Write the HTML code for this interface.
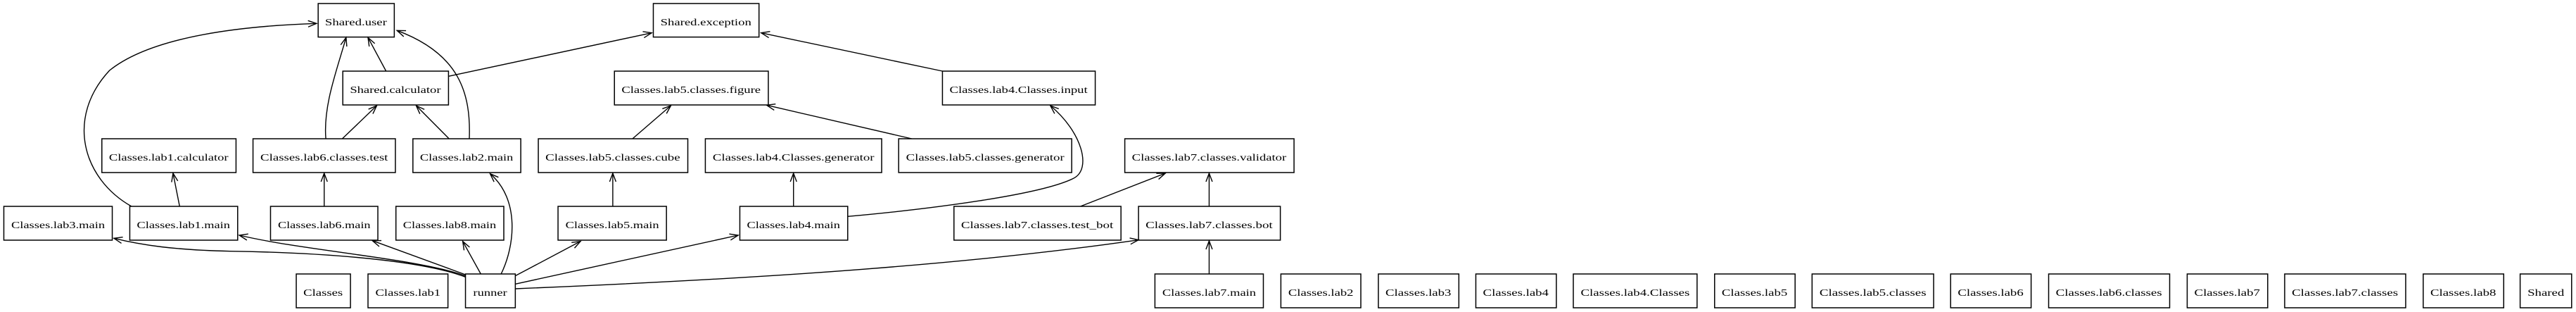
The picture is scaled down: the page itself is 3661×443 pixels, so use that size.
<!DOCTYPE html>
<html><head><meta charset="utf-8"><style>html,body{margin:0;padding:0;background:#fff}svg{display:block}#ov{position:absolute;left:0;top:0}</style></head>
<body>
<svg id="main" width="3661" height="443" viewBox="0 0 4704 1329" preserveAspectRatio="none" xmlns="http://www.w3.org/2000/svg">
<g id="edges" fill="none" stroke="#000" stroke-width="1.4">
<path vector-effect="non-scaling-stroke" d="M705,303 L672,160"/>
<path vector-effect="non-scaling-stroke" d="M595,591 C590,450 615,300 632,160"/>
<path vector-effect="non-scaling-stroke" d="M857,591 C860,400 840,230 725,130"/>
<path vector-effect="non-scaling-stroke" d="M240,879 C150,760 120,500 200,300 C280,150 450,110 578,100"/>
<path vector-effect="non-scaling-stroke" d="M819,325 L1190,140"/>
<path vector-effect="non-scaling-stroke" d="M1721,303 L1390,140"/>
<path vector-effect="non-scaling-stroke" d="M625,591 L688,450"/>
<path vector-effect="non-scaling-stroke" d="M820,591 L760,450"/>
<path vector-effect="non-scaling-stroke" d="M1155,591 L1225,450"/>
<path vector-effect="non-scaling-stroke" d="M1665,591 L1400,448"/>
<path vector-effect="non-scaling-stroke" d="M328,879 L316,738"/>
<path vector-effect="non-scaling-stroke" d="M592,879 L592,738"/>
<path vector-effect="non-scaling-stroke" d="M1119,879 L1119,738"/>
<path vector-effect="non-scaling-stroke" d="M1449,879 L1449,738"/>
<path vector-effect="non-scaling-stroke" d="M1548,922 C1700,890 1900,830 1960,760 C1995,720 1975,560 1918,450"/>
<path vector-effect="non-scaling-stroke" d="M1973,879 L2128,738"/>
<path vector-effect="non-scaling-stroke" d="M2208,879 L2208,738"/>
<path vector-effect="non-scaling-stroke" d="M2208,1167 L2208,1026"/>
<path vector-effect="non-scaling-stroke" d="M850,1180 C760,1100 560,1075 420,1070 C320,1065 260,1045 208,1015"/>
<path vector-effect="non-scaling-stroke" d="M850,1175 C760,1100 560,1070 437,1002"/>
<path vector-effect="non-scaling-stroke" d="M850,1170 L680,1025"/>
<path vector-effect="non-scaling-stroke" d="M878,1167 L845,1028"/>
<path vector-effect="non-scaling-stroke" d="M915,1167 C940,1050 950,850 895,740"/>
<path vector-effect="non-scaling-stroke" d="M941,1175 L1060,1028"/>
<path vector-effect="non-scaling-stroke" d="M941,1210 L1348,1002"/>
<path vector-effect="non-scaling-stroke" d="M941,1230 C1250,1200 1700,1150 2079,1022"/>
</g>
<g fill="#fff" stroke="#000" stroke-width="1.5">
<rect vector-effect="non-scaling-stroke" x="581" y="15" width="139" height="143"/>
<rect vector-effect="non-scaling-stroke" x="1193" y="15" width="193" height="143"/>
<rect vector-effect="non-scaling-stroke" x="626" y="303" width="193" height="144"/>
<rect vector-effect="non-scaling-stroke" x="1122" y="303" width="281" height="144"/>
<rect vector-effect="non-scaling-stroke" x="1721" y="303" width="279" height="144"/>
<rect vector-effect="non-scaling-stroke" x="186" y="591" width="245" height="144"/>
<rect vector-effect="non-scaling-stroke" x="462" y="591" width="260" height="144"/>
<rect vector-effect="non-scaling-stroke" x="754" y="591" width="197" height="144"/>
<rect vector-effect="non-scaling-stroke" x="983" y="591" width="273" height="144"/>
<rect vector-effect="non-scaling-stroke" x="1288" y="591" width="322" height="144"/>
<rect vector-effect="non-scaling-stroke" x="1641" y="591" width="316" height="144"/>
<rect vector-effect="non-scaling-stroke" x="2054" y="591" width="309" height="144"/>
<rect vector-effect="non-scaling-stroke" x="7" y="879" width="198" height="144"/>
<rect vector-effect="non-scaling-stroke" x="237" y="879" width="197" height="144"/>
<rect vector-effect="non-scaling-stroke" x="494" y="879" width="196" height="144"/>
<rect vector-effect="non-scaling-stroke" x="723" y="879" width="197" height="144"/>
<rect vector-effect="non-scaling-stroke" x="1019" y="879" width="198" height="144"/>
<rect vector-effect="non-scaling-stroke" x="1351" y="879" width="197" height="144"/>
<rect vector-effect="non-scaling-stroke" x="1742" y="879" width="305" height="144"/>
<rect vector-effect="non-scaling-stroke" x="2079" y="879" width="259" height="144"/>
<rect vector-effect="non-scaling-stroke" x="541" y="1167" width="99" height="144"/>
<rect vector-effect="non-scaling-stroke" x="672" y="1167" width="146" height="144"/>
<rect vector-effect="non-scaling-stroke" x="850" y="1167" width="91" height="144"/>
<rect vector-effect="non-scaling-stroke" x="2109" y="1167" width="198" height="144"/>
<rect vector-effect="non-scaling-stroke" x="2339" y="1167" width="146" height="144"/>
<rect vector-effect="non-scaling-stroke" x="2517" y="1167" width="147" height="144"/>
<rect vector-effect="non-scaling-stroke" x="2695" y="1167" width="147" height="144"/>
<rect vector-effect="non-scaling-stroke" x="2873" y="1167" width="226" height="144"/>
<rect vector-effect="non-scaling-stroke" x="3131" y="1167" width="147" height="144"/>
<rect vector-effect="non-scaling-stroke" x="3309" y="1167" width="222" height="144"/>
<rect vector-effect="non-scaling-stroke" x="3562" y="1167" width="147" height="144"/>
<rect vector-effect="non-scaling-stroke" x="3741" y="1167" width="221" height="144"/>
<rect vector-effect="non-scaling-stroke" x="3994" y="1167" width="147" height="144"/>
<rect vector-effect="non-scaling-stroke" x="4172" y="1167" width="221" height="144"/>
<rect vector-effect="non-scaling-stroke" x="4425" y="1167" width="147" height="144"/>
<rect vector-effect="non-scaling-stroke" x="4602" y="1167" width="94" height="144"/>
</g>
<g font-family="Liberation Serif, serif" font-size="42" text-anchor="middle" fill="#000">
<text x="650" y="108" textLength="113" lengthAdjust="spacingAndGlyphs">Shared.user</text>
<text x="1289" y="108" textLength="166" lengthAdjust="spacingAndGlyphs">Shared.exception</text>
<text x="722" y="396" textLength="166" lengthAdjust="spacingAndGlyphs">Shared.calculator</text>
<text x="1262" y="396" textLength="254" lengthAdjust="spacingAndGlyphs">Classes.lab5.classes.figure</text>
<text x="1860" y="396" textLength="252" lengthAdjust="spacingAndGlyphs">Classes.lab4.Classes.input</text>
<text x="308" y="684" textLength="218" lengthAdjust="spacingAndGlyphs">Classes.lab1.calculator</text>
<text x="592" y="684" textLength="233" lengthAdjust="spacingAndGlyphs">Classes.lab6.classes.test</text>
<text x="852" y="684" textLength="170" lengthAdjust="spacingAndGlyphs">Classes.lab2.main</text>
<text x="1119" y="684" textLength="246" lengthAdjust="spacingAndGlyphs">Classes.lab5.classes.cube</text>
<text x="1449" y="684" textLength="295" lengthAdjust="spacingAndGlyphs">Classes.lab4.Classes.generator</text>
<text x="1799" y="684" textLength="289" lengthAdjust="spacingAndGlyphs">Classes.lab5.classes.generator</text>
<text x="2208" y="684" textLength="282" lengthAdjust="spacingAndGlyphs">Classes.lab7.classes.validator</text>
<text x="106" y="972" textLength="171" lengthAdjust="spacingAndGlyphs">Classes.lab3.main</text>
<text x="335" y="972" textLength="170" lengthAdjust="spacingAndGlyphs">Classes.lab1.main</text>
<text x="592" y="972" textLength="169" lengthAdjust="spacingAndGlyphs">Classes.lab6.main</text>
<text x="821" y="972" textLength="170" lengthAdjust="spacingAndGlyphs">Classes.lab8.main</text>
<text x="1118" y="972" textLength="171" lengthAdjust="spacingAndGlyphs">Classes.lab5.main</text>
<text x="1449" y="972" textLength="170" lengthAdjust="spacingAndGlyphs">Classes.lab4.main</text>
<text x="1894" y="972" textLength="278" lengthAdjust="spacingAndGlyphs">Classes.lab7.classes.test_bot</text>
<text x="2208" y="972" textLength="232" lengthAdjust="spacingAndGlyphs">Classes.lab7.classes.bot</text>
<text x="590" y="1260" textLength="72" lengthAdjust="spacingAndGlyphs">Classes</text>
<text x="745" y="1260" textLength="119" lengthAdjust="spacingAndGlyphs">Classes.lab1</text>
<text x="895" y="1260" textLength="62" lengthAdjust="spacingAndGlyphs">runner</text>
<text x="2208" y="1260" textLength="171" lengthAdjust="spacingAndGlyphs">Classes.lab7.main</text>
<text x="2412" y="1260" textLength="119" lengthAdjust="spacingAndGlyphs">Classes.lab2</text>
<text x="2590" y="1260" textLength="120" lengthAdjust="spacingAndGlyphs">Classes.lab3</text>
<text x="2768" y="1260" textLength="120" lengthAdjust="spacingAndGlyphs">Classes.lab4</text>
<text x="2986" y="1260" textLength="199" lengthAdjust="spacingAndGlyphs">Classes.lab4.Classes</text>
<text x="3204" y="1260" textLength="120" lengthAdjust="spacingAndGlyphs">Classes.lab5</text>
<text x="3420" y="1260" textLength="195" lengthAdjust="spacingAndGlyphs">Classes.lab5.classes</text>
<text x="3635" y="1260" textLength="120" lengthAdjust="spacingAndGlyphs">Classes.lab6</text>
<text x="3851" y="1260" textLength="194" lengthAdjust="spacingAndGlyphs">Classes.lab6.classes</text>
<text x="4067" y="1260" textLength="120" lengthAdjust="spacingAndGlyphs">Classes.lab7</text>
<text x="4282" y="1260" textLength="194" lengthAdjust="spacingAndGlyphs">Classes.lab7.classes</text>
<text x="4498" y="1260" textLength="120" lengthAdjust="spacingAndGlyphs">Classes.lab8</text>
<text x="4649" y="1260" textLength="67" lengthAdjust="spacingAndGlyphs">Shared</text>
</g>
</svg>
<svg id="ov" width="3661" height="443" xmlns="http://www.w3.org/2000/svg"><g id="heads" fill="none" stroke="#000" stroke-width="1.4"></g></svg>
<script>
(function(){
var sx=3661/4704, sy=1/3, g=document.getElementById('heads');
var ps=document.querySelectorAll('#edges path');
for(var i=0;i<ps.length;i++){
 var p=ps[i], L=p.getTotalLength();
 var a=p.getPointAtLength(L), b=p.getPointAtLength(Math.max(0,L-20));
 var ax=a.x*sx, ay=a.y*sy, bx=b.x*sx, by=b.y*sy;
 var dx=ax-bx, dy=ay-by, d=Math.sqrt(dx*dx+dy*dy)||1; dx/=d; dy/=d;
 var len=12, w=4.5;
 var x1=ax-dx*len-dy*w, y1=ay-dy*len+dx*w, x2=ax-dx*len+dy*w, y2=ay-dy*len-dx*w;
 var pl=document.createElementNS('http://www.w3.org/2000/svg','polyline');
 pl.setAttribute('points',x1+','+y1+' '+ax+','+ay+' '+x2+','+y2);
 g.appendChild(pl);
}
})();
</script>
</body></html>
